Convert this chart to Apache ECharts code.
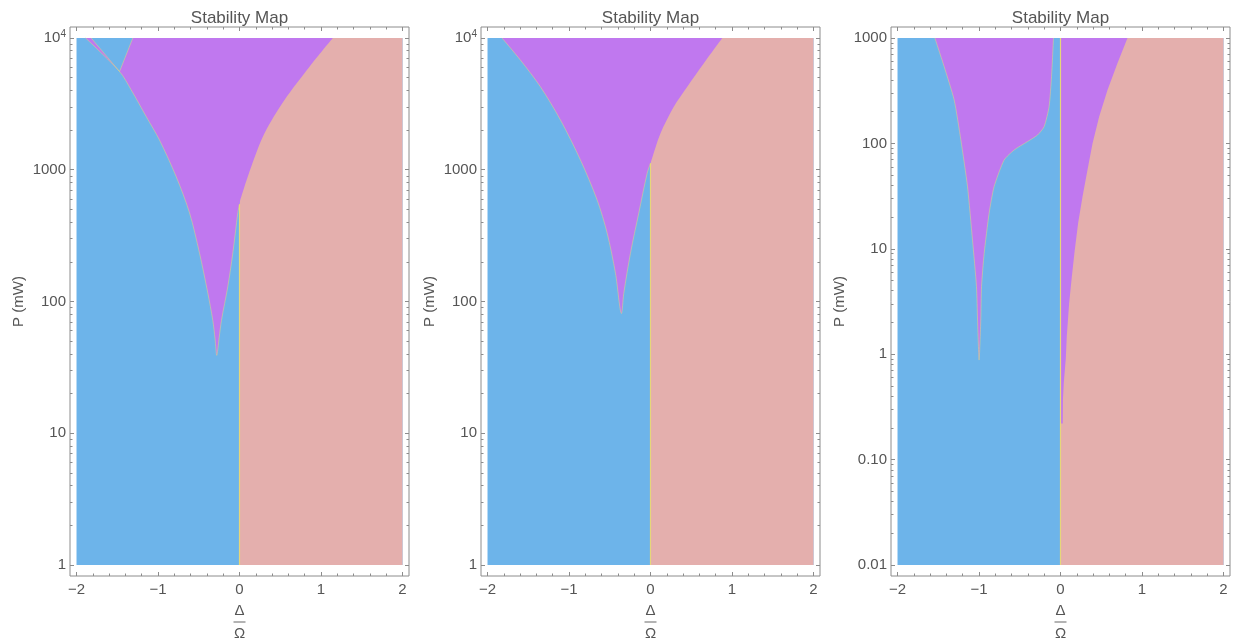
<!DOCTYPE html>
<html><head><meta charset="utf-8">
<script src="https://cdn.jsdelivr.net/npm/echarts@6/dist/echarts.min.js"></script>
<style>html,body{margin:0;padding:0;background:#fff}#c{width:1236px;height:642px}</style>
</head><body><div id="c"></div>
<script>
// ---------- tick data ----------
const xMajorTicks = [-2, -1, 0, 1, 2];
const xMajorLabels = ['−2', '−1', '0', '1', '2'];
const xMinorTicks = [-1.8, -1.6, -1.4, -1.2, -0.8, -0.6, -0.4, -0.2, 0.2, 0.4, 0.6, 0.8, 1.2, 1.4, 1.6, 1.8];

const yMajorTicksA = [1, 10, 100, 1000, 10000];
const yMajorLabelsA = ['1', '10', '100', '1000', '10{s|4}'];
const yMinorTicksA = [2,3,4,5,6,7,8,9, 20,30,40,50,60,70,80,90, 200,300,400,500,600,700,800,900, 2000,3000,4000,5000,6000,7000,8000,9000];

const yMajorTicksC = [0.01, 0.1, 1, 10, 100, 1000];
const yMajorLabelsC = ['0.01', '0.10', '1', '10', '100', '1000'];
const yMinorTicksC = [0.02,0.03,0.04,0.05,0.06,0.07,0.08,0.09, 0.2,0.3,0.4,0.5,0.6,0.7,0.8,0.9, 2,3,4,5,6,7,8,9, 20,30,40,50,60,70,80,90, 200,300,400,500,600,700,800,900];

// ---------- region boundaries: [Δ/Ω, P (mW)] ----------
const detuningRange = [-2, 2];
const powerRangeA = [1, 10000];
const powerRangeC = [0.01, 1000];

// panel 1
const p1BlueEdge = [[-1.890,10000],[-1.472,5560],[-1.329,4030],[-1.145,2530],[-0.982,1680],[-0.777,885],[-0.613,470],[-0.491,233],[-0.389,116],[-0.328,72],[-0.300,52],[-0.279,39],[-0.250,53],[-0.221,72],[-0.144,129],[-0.082,233],[-0.021,470],[0,547]];
const p1PinkEdge = [[0,547],[0.009,589],[0.144,1055],[0.307,1890],[0.552,3380],[0.859,6050],[1.145,10000]];
const p1BlueWedge = [[-1.820,10000],[-1.472,5560],[-1.309,10000]];
// panel 2
const p2BlueEdge = [[-1.823,10000],[-1.598,6810],[-1.352,4270],[-1.106,2390],[-0.861,1190],[-0.655,589],[-0.532,330],[-0.430,164],[-0.356,81],[-0.328,115],[-0.246,232],[-0.144,468],[-0.041,940],[0,1120]];
const p2PinkEdge = [[0,1120],[0.123,1890],[0.286,3010],[0.451,4270],[0.655,6430],[0.881,10000]];
// panel 3
const p3BlueEdge = [[-1.542,1000],[-1.428,535],[-1.305,258],[-1.223,108],[-1.141,38.8],[-1.080,12.1],[-1.031,4.37],[-1.018,2.11],[-0.999,0.88],[-0.978,2.11],[-0.969,4.37],[-0.937,9.0],[-0.876,21.7],[-0.815,38.8],[-0.692,69.5],[-0.569,86.5],[-0.405,104],[-0.282,120],[-0.201,144],[-0.140,223],[-0.110,430],[-0.086,1000]];
const p3PinkEdge = [[0,0.22],[0.028,0.22],[0.030,0.37],[0.040,0.53],[0.065,0.91],[0.077,1.47],[0.106,3.04],[0.139,5.43],[0.175,9.75],[0.216,17.5],[0.270,31.2],[0.331,56],[0.393,100],[0.474,179],[0.577,321],[0.699,575],[0.822,1000]];

// vertical line at Δ=0 (bottom P, top P) per panel
const zeroLineP = [[1, 547], [1, 1120], [0.01, 1000]];

// ---------- style ----------
const FONT = '"Liberation Sans", Arial, Helvetica, sans-serif';
const TXT = '#555555';
const FRAME = '#8c8c8c';
const BLUE = '#6db4ea';
const PURPLE = '#c078ef';
const PINK = '#e4afad';
const YELLOW = '#e6d67a';
const FRINGE = '#d9d488';

const lg = p => Math.log10(p);
const xr = [-2.08, 2.08];

const panels = [
  { left: 70, pr: powerRangeA, yT: yMajorTicksA, yL: yMajorLabelsA, yM: yMinorTicksA,
    purple: [[p1BlueEdge.concat(p1PinkEdge.slice(1)), 0.3]], wedge: p1BlueWedge,
    fringe: [[p1BlueEdge, 0.3], [p1BlueWedge, 0]], zero: zeroLineP[0] },
  { left: 481, pr: powerRangeA, yT: yMajorTicksA, yL: yMajorLabelsA, yM: yMinorTicksA,
    purple: [[p2BlueEdge.concat(p2PinkEdge.slice(1)), 0.3]], wedge: null,
    fringe: [[p2BlueEdge, 0.3]], zero: zeroLineP[1] },
  { left: 891, pr: powerRangeC, yT: yMajorTicksC, yL: yMajorLabelsC, yM: yMinorTicksC,
    purple: [[p3BlueEdge, 0.2], [p3PinkEdge, 0]], wedge: null,
    fringe: [[p3BlueEdge, 0.2]], zero: zeroLineP[2] }
];

const option = { animation: false, title: [], grid: [], xAxis: [], yAxis: [], series: [] };

function mkX(gi, pos, ticks, len, withLabels) {
  const a = { type: 'value', gridIndex: gi, position: pos, min: xr[0], max: xr[1],
    axisLine: { show: false, onZero: false }, splitLine: { show: false },
    axisTick: { show: true, inside: true, length: len, customValues: ticks, lineStyle: { color: FRAME, width: 1 } },
    axisLabel: { show: false } };
  if (withLabels) {
    a.axisLabel = { show: true, customValues: xMajorTicks, margin: 6, fontSize: 15, color: TXT, fontFamily: FONT,
      formatter: v => xMajorLabels[xMajorTicks.findIndex(t => Math.abs(t - v) < 1e-9)] };
    a.name = '{n|Δ}\n{l| }\n{d|Ω}';
    a.nameLocation = 'middle';
    a.nameGap = 27;
    a.nameMoveOverlap = false;
    a.nameTextStyle = { rich: {
      n: { fontSize: 15, lineHeight: 15, color: TXT, fontFamily: FONT, align: 'center' },
      l: { width: 12, height: 1, lineHeight: 8, backgroundColor: '#666', align: 'center' },
      d: { fontSize: 15, lineHeight: 15, color: TXT, fontFamily: FONT, align: 'center' } } };
  }
  return a;
}
function mkY(gi, pos, pn, ticks, len, withLabels) {
  const yMin = lg(pn.pr[0]), yMax = lg(pn.pr[1]);
  const pad = (yMax - yMin) * 0.0208;
  const a = { type: 'value', gridIndex: gi, position: pos, min: yMin - pad, max: yMax + pad,
    axisLine: { show: false, onZero: false }, splitLine: { show: false },
    axisTick: { show: true, inside: true, length: len, customValues: ticks.map(lg), lineStyle: { color: FRAME, width: 1 } },
    axisLabel: { show: false } };
  if (withLabels) {
    a.axisLabel = { show: true, customValues: pn.yT.map(lg), margin: 4, fontSize: 15, lineHeight: 18, color: TXT, fontFamily: FONT,
      formatter: v => pn.yL[pn.yT.findIndex(t => Math.abs(lg(t) - v) < 1e-6)],
      rich: { s: { fontSize: 10, lineHeight: 10, verticalAlign: 'top', color: TXT, fontFamily: FONT } } };
    a.name = 'P (mW)';
    a.nameLocation = 'middle';
    a.nameGap = 44;
    a.nameMoveOverlap = false;
    a.nameTextStyle = { fontSize: 15, color: TXT, fontFamily: FONT };
  }
  return a;
}
function area(i, pts, originP, color, z, smooth) {
  return { type: 'line', xAxisIndex: 2 * i, yAxisIndex: 2 * i, silent: true, symbol: 'none', z: z,
    smooth: smooth || false,
    data: pts.map(d => [d[0], lg(d[1])]), lineStyle: { width: 0, opacity: 0 },
    areaStyle: { color: color, opacity: 1, origin: lg(originP) } };
}
function line(i, pts, color, width, opacity, z, smooth) {
  return { type: 'line', xAxisIndex: 2 * i, yAxisIndex: 2 * i, silent: true, symbol: 'none', z: z,
    smooth: smooth || false,
    data: pts.map(d => [d[0], lg(d[1])]), lineStyle: { width: width, color: color, opacity: opacity } };
}

panels.forEach((pn, i) => {
  const g = { left: pn.left, top: 27, width: 339, height: 549, containLabel: false, outerBoundsMode: 'none' };
  option.grid[i] = Object.assign({ show: true, borderColor: FRAME, borderWidth: 1, backgroundColor: 'transparent' }, g);
  option.grid[3 + i] = Object.assign({ show: false }, g);
  option.title.push({ text: 'Stability Map', left: pn.left + 169.5, top: 10, padding: 0, textAlign: 'center',
    textStyle: { fontSize: 17, fontWeight: 'normal', color: TXT, fontFamily: FONT } });

  option.xAxis[2 * i] = mkX(i, 'bottom', xMajorTicks, 4, true);
  option.xAxis[2 * i + 1] = mkX(i, 'top', xMajorTicks, 4, false);
  option.xAxis[6 + 2 * i] = mkX(3 + i, 'bottom', xMinorTicks, 2.5, false);
  option.xAxis[7 + 2 * i] = mkX(3 + i, 'top', xMinorTicks, 2.5, false);
  option.yAxis[2 * i] = mkY(i, 'left', pn, pn.yT, 4, true);
  option.yAxis[2 * i + 1] = mkY(i, 'right', pn, pn.yT, 4, false);
  option.yAxis[6 + 2 * i] = mkY(3 + i, 'left', pn, pn.yM, 2.5, false);
  option.yAxis[7 + 2 * i] = mkY(3 + i, 'right', pn, pn.yM, 2.5, false);

  const top = pn.pr[1], bot = pn.pr[0];
  // blue background region
  option.series.push(area(i, [[detuningRange[0], top], [detuningRange[1], top]], bot, BLUE, 1));
  // pink region (Δ ≥ 0)
  option.series.push(area(i, [[0, top], [detuningRange[1], top]], bot, PINK, 2));
  // purple regions (above their lower edges)
  pn.purple.forEach(e => option.series.push(area(i, e[0], top, PURPLE, 3, e[1])));
  if (pn.wedge) option.series.push(area(i, pn.wedge, top, BLUE, 4));
  pn.fringe.forEach(e => option.series.push(line(i, e[0], FRINGE, 1, 0.55, 5, e[1])));
  option.series.push(line(i, [[0, pn.zero[0]], [0, pn.zero[1]]], YELLOW, 1.2, 1, 6));
});

const chart = echarts.init(document.getElementById('c'), null, { renderer: 'canvas' });
chart.setOption(option);
</script>
</body></html>
